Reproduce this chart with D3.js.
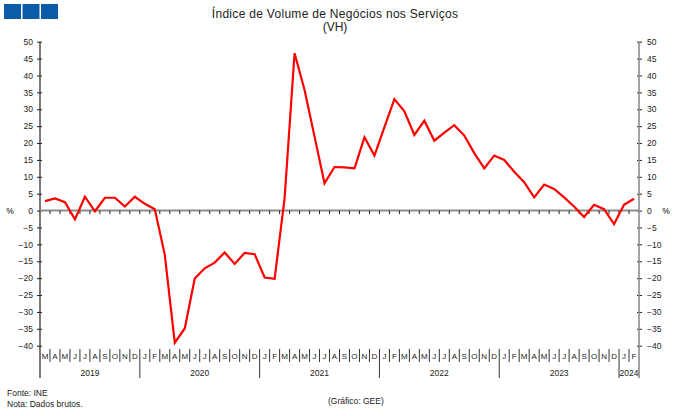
<!DOCTYPE html>
<html lang="pt">
<head>
  <meta charset="UTF-8">
  <title>Índice de Volume de Negócios nos Serviços</title>
  <script src="https://d3js.org/d3.v7.min.js"></script>
  <style>
    body {
      margin: 0;
      padding: 0;
      background: #fff;
    }
    svg {
      font-family: "Liberation Sans", Arial, sans-serif;
    }
    .tick text {
      font-size: 8.5px;
      fill: #222;
    }
  </style>
</head>
<body>
  <svg id="chart" width="680" height="416"></svg>

  <script>
    // meses de Mar 2019 a Fev 2024
    const monthLabels = ["M","A","M","J","J","A","S","O","N","D",
      "J","F","M","A","M","J","J","A","S","O","N","D",
      "J","F","M","A","M","J","J","A","S","O","N","D",
      "J","F","M","A","M","J","J","A","S","O","N","D",
      "J","F","M","A","M","J","J","A","S","O","N","D",
      "J","F"];
    const years = ["2019", "2020", "2021", "2022", "2023", "2024"];
    const monthsPerYear = [10, 12, 12, 12, 12, 2];
    const vh = [2.8, 3.6, 2.5, -2.6, 4.1, -0.2, 3.8, 3.8, 1.2, 4.1,
      2.0, 0.4, -13.1, -39.1, -34.9, -20.1, -17.1, -15.4, -12.4, -15.8, -12.5, -12.9,
      -19.8, -20.2, 3.6, 46.6, 35.7, 21.9, 8.1, 12.9, 12.8, 12.5, 21.7, 16.3,
      24.7, 33.0, 29.4, 22.4, 26.6, 20.7, 23.1, 25.3, 22.2, 17.0, 12.5, 16.3,
      15.0, 11.5, 8.4, 3.9, 7.7, 6.4, 3.9, 1.2, -1.9, 1.7, 0.4, -4.0,
      1.7, 3.5];
    const yTicks = d3.range(-40, 51, 5);

    const svg = d3.select("#chart");
    const plotL = 40, plotR = 639, plotT = 41.7, plotB = 345.7;

    const x = d3.scaleBand()
      .domain(d3.range(vh.length))
      .range([plotL, plotR]);

    const y = d3.scaleLinear()
      .domain([-40, 50])
      .range([plotB, plotT]);

    // logotipo
    [4, 22.5, 41].forEach(function(lx) {
      svg.append("rect")
        .attr("x", lx).attr("y", 4)
        .attr("width", 17).attr("height", 15)
        .attr("fill", "#0b5ca8");
    });

    // título
    svg.append("text")
      .attr("x", 335).attr("y", 18)
      .attr("text-anchor", "middle")
      .style("font-size", "12px")
      .style("letter-spacing", "0.3px")
      .style("fill", "#222")
      .text("Índice de Volume de Negócios nos Serviços");
    svg.append("text")
      .attr("x", 335).attr("y", 31)
      .attr("text-anchor", "middle")
      .style("font-size", "12px")
      .style("fill", "#222")
      .text("(VH)");

    // eixo esquerdo
    const axL = svg.append("g")
      .attr("transform", `translate(${plotL},0)`)
      .call(d3.axisLeft(y).tickValues(yTicks).tickSize(0).tickPadding(7));
    axL.select(".domain").remove();
    axL.selectAll(".tick line").attr("x1", -3).attr("x2", 2).attr("stroke", "#222");

    // eixo direito
    const axR = svg.append("g")
      .attr("transform", `translate(${plotR},0)`)
      .call(d3.axisRight(y).tickValues(yTicks).tickSize(0).tickPadding(8));
    axR.select(".domain").remove();
    axR.selectAll(".tick line").attr("x1", -2).attr("x2", 3).attr("stroke", "#222");

    svg.append("line")
      .attr("x1", plotL).attr("x2", plotL)
      .attr("y1", plotT).attr("y2", 378)
      .attr("stroke", "#222").attr("stroke-width", 1.2);
    svg.append("line")
      .attr("x1", plotR).attr("x2", plotR)
      .attr("y1", plotT).attr("y2", 378)
      .attr("stroke", "#8c8c8c").attr("stroke-width", 1.6);

    svg.append("text").attr("x", 10).attr("y", y(0) + 3)
      .attr("text-anchor", "middle").style("font-size", "8.5px").text("%");
    svg.append("text").attr("x", 666).attr("y", y(0) + 3)
      .attr("text-anchor", "middle").style("font-size", "8.5px").text("%");

    // linha do zero
    svg.append("line")
      .attr("x1", plotL).attr("x2", plotR)
      .attr("y1", y(0)).attr("y2", y(0))
      .attr("stroke", "#8c8c8c").attr("stroke-width", 2);
    svg.selectAll(".zt")
      .data(d3.range(1, vh.length))
      .enter().append("line")
      .attr("x1", i => x(i)).attr("x2", i => x(i))
      .attr("y1", y(0)).attr("y2", y(0) + 3.5)
      .attr("stroke", "#222");

    // meses
    svg.selectAll(".mes")
      .data(monthLabels)
      .enter().append("text")
      .attr("x", (d, i) => x(i) + x.bandwidth() / 2)
      .attr("y", 359)
      .attr("text-anchor", "middle")
      .style("font-size", "8px")
      .style("fill", "#222")
      .text(d => d);

    const yearStart = d3.cumsum([0].concat(monthsPerYear));
    svg.selectAll(".sep")
      .data(d3.range(1, vh.length))
      .enter().append("line")
      .attr("x1", i => x(i)).attr("x2", i => x(i))
      .attr("y1", 349)
      .attr("y2", i => yearStart.includes(i) ? 378 : 362)
      .attr("stroke", "#333");

    // anos
    svg.selectAll(".ano")
      .data(years)
      .enter().append("text")
      .attr("x", (d, i) => {
        const a = x(yearStart[i]);
        const b = yearStart[i + 1] >= vh.length ? plotR : x(yearStart[i + 1]);
        return (a + b) / 2;
      })
      .attr("y", 376)
      .attr("text-anchor", "middle")
      .style("font-size", "8.5px")
      .style("fill", "#222")
      .text(d => d);

    // série
    const line = d3.line()
      .x((d, i) => x(i) + x.bandwidth() / 2)
      .y(d => y(d));

    svg.append("path")
      .datum(vh)
      .attr("d", line)
      .attr("fill", "none")
      .attr("stroke", "#ff0000")
      .attr("stroke-width", 2.2)
      .attr("stroke-linejoin", "miter");

    // rodapé
    svg.append("text").attr("x", 7).attr("y", 396)
      .style("font-size", "8.5px").style("fill", "#222").text("Fonte: INE");
    svg.append("text").attr("x", 7).attr("y", 407)
      .style("font-size", "8.5px").style("fill", "#222").text("Nota: Dados brutos.");
    svg.append("text").attr("x", 328).attr("y", 404)
      .style("font-size", "8.5px").style("fill", "#222").text("(Gráfico: GEE)");
  </script>
</body>
</html>
